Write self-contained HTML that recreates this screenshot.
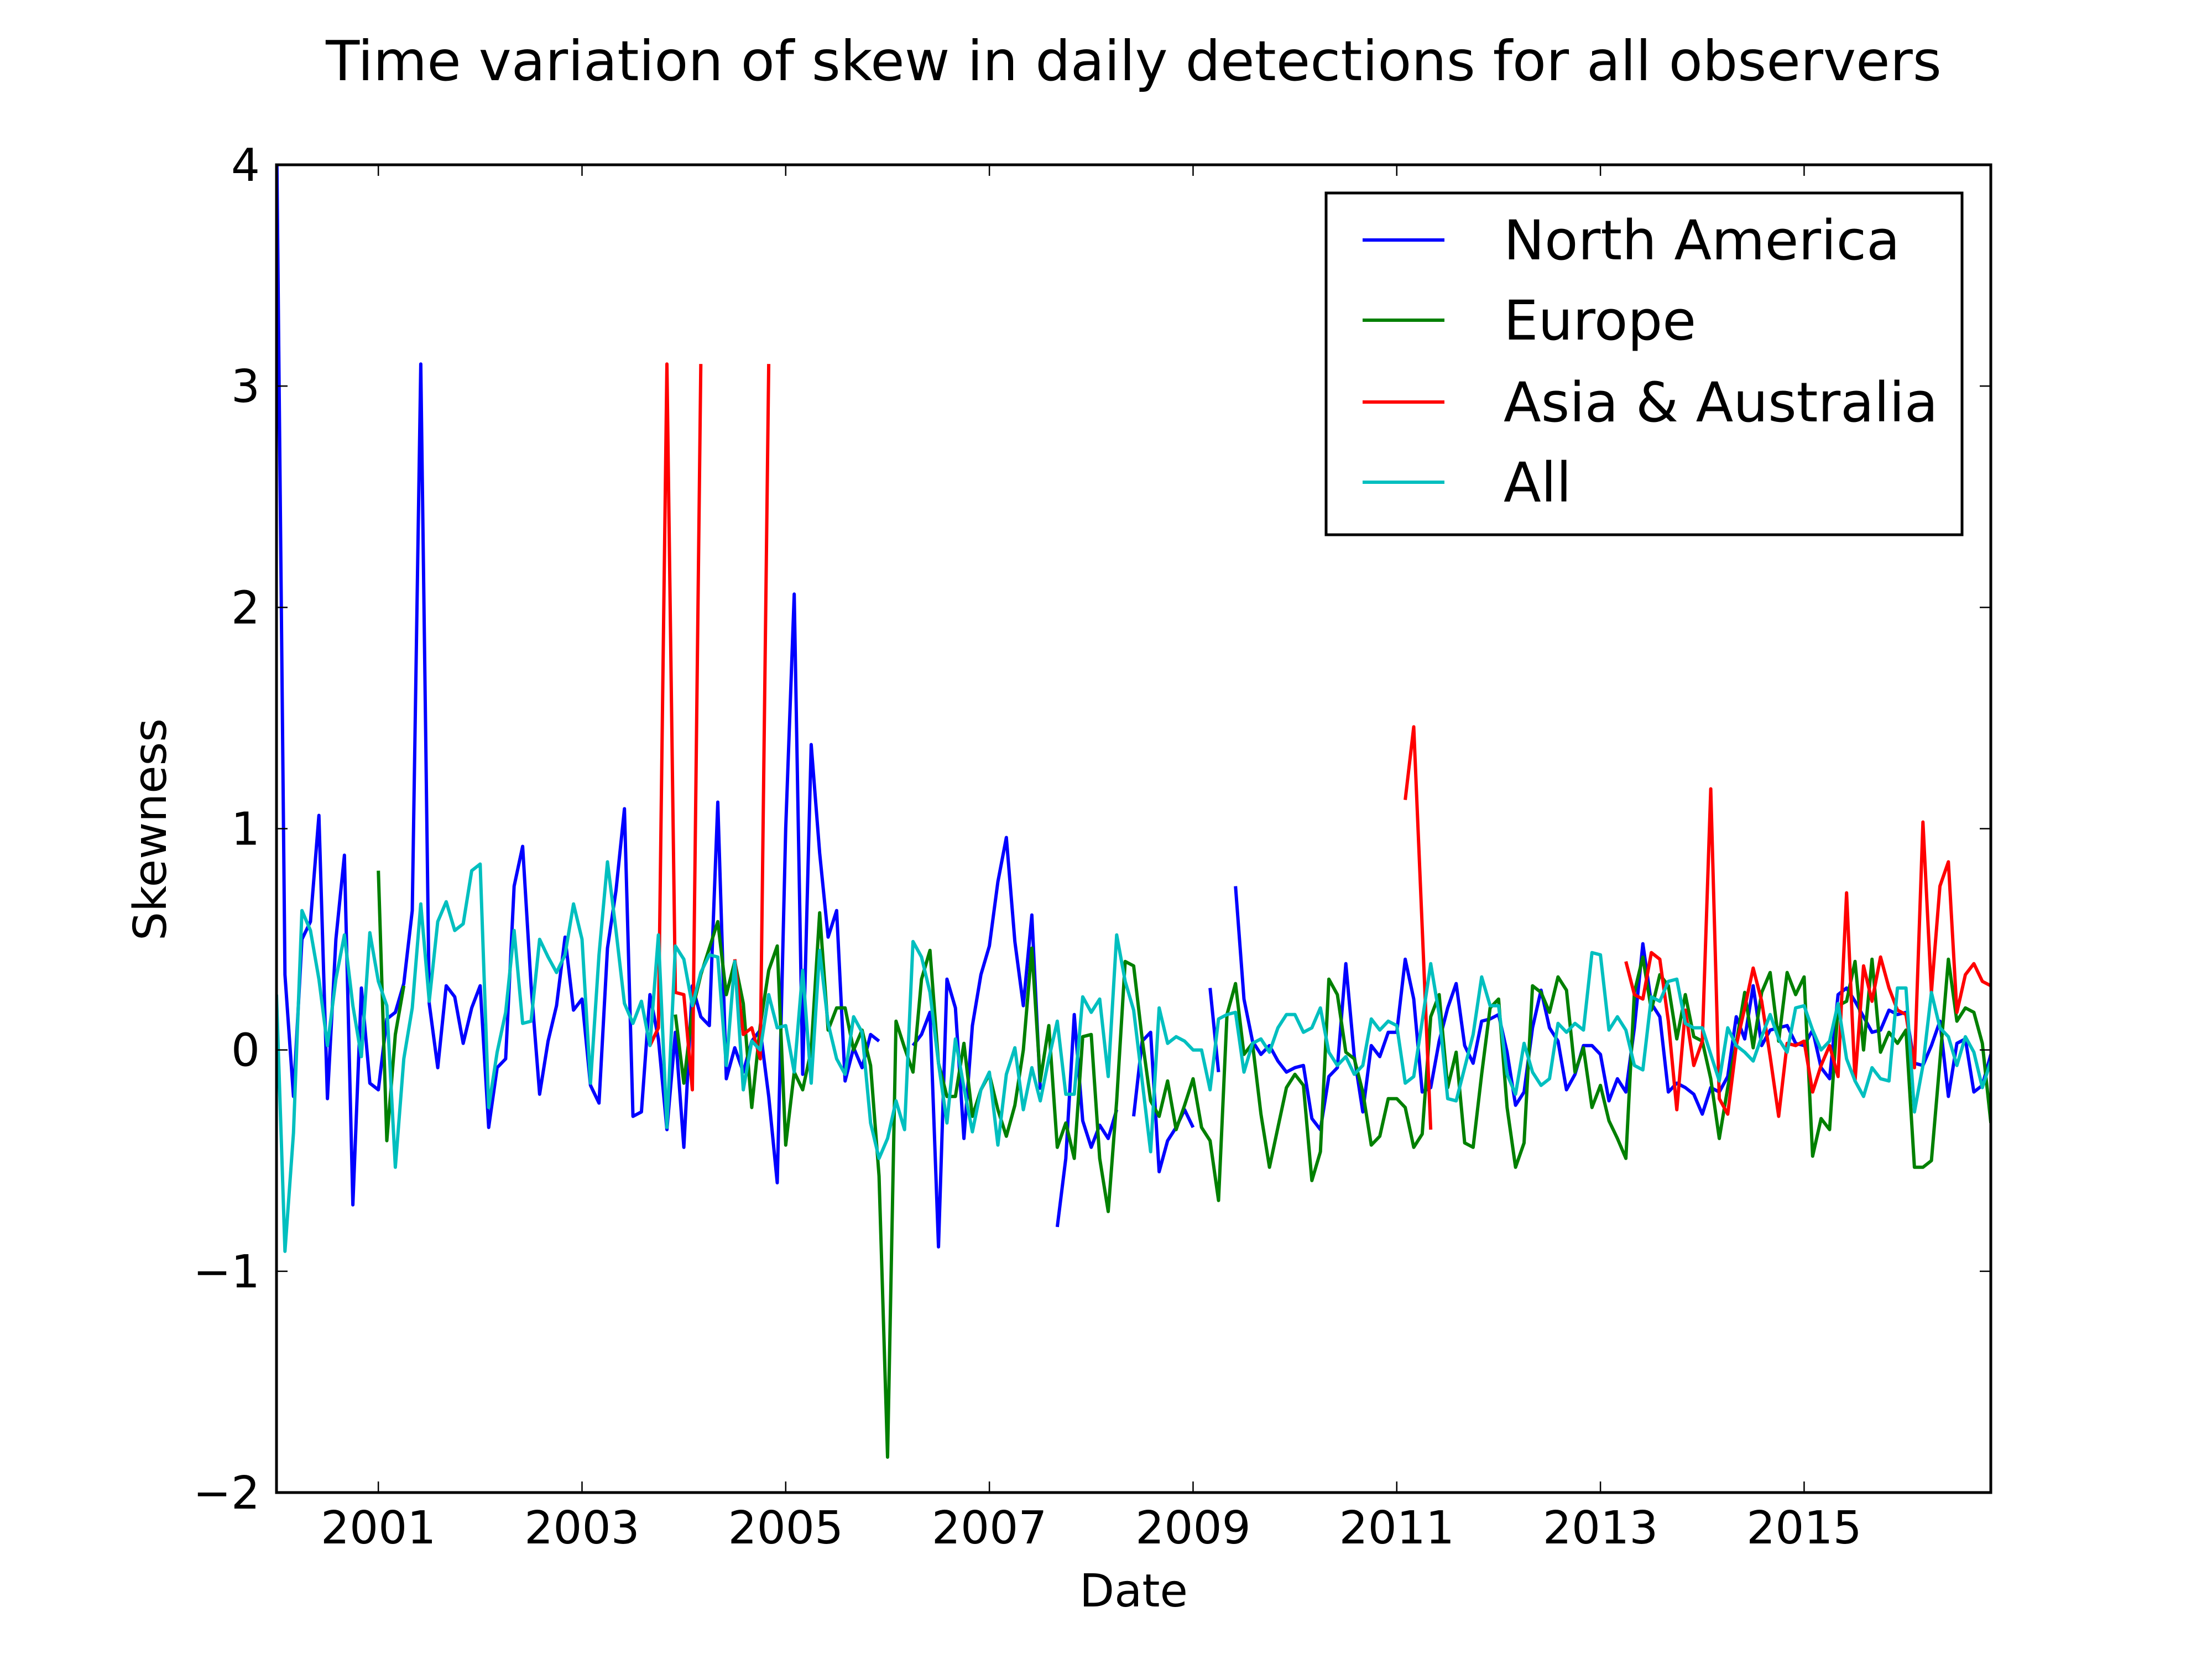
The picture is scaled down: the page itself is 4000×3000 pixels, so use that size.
<!DOCTYPE html>
<html><head><meta charset="utf-8"><title>Skew chart</title>
<style>html,body{margin:0;padding:0;background:#fff}svg{display:block}text{font-family:"DejaVu Sans","Liberation Sans",sans-serif}</style>
</head><body>
<svg id="chart" xmlns="http://www.w3.org/2000/svg" width="4000" height="3000" viewBox="0 0 4000 3000">
<rect x="0" y="0" width="4000" height="3000" fill="#fff"/>
<text x="2050" y="145" font-size="100" text-anchor="middle">Time variation of skew in daily detections for all observers</text>
<text x="2050" y="2905" font-size="82" text-anchor="middle">Date</text>
<text x="0" y="0" font-size="82" text-anchor="middle" transform="translate(300,1500) rotate(-90)">Skewness</text>
<defs><clipPath id="plotclip"><rect x="500" y="298" width="3100" height="2401"/></clipPath></defs>
<g id="series" clip-path="url(#plotclip)"></g>
<g id="axes"></g>
<g id="legend"></g>
</svg>
<script>
const yTicks=[-2,-1,0,1,2,3,4];
const xTickYears=[2001,2003,2005,2007,2009,2011,2013,2015];
const seriesNames=["North America","Europe","Asia & Australia","All"];
const northAmericaValues=[4.2,0.34,-0.21,0.5,0.58,1.06,-0.22,0.5,0.88,-0.7,
0.28,-0.15,-0.18,0.14,0.17,0.3,0.63,3.1,0.21,-0.08,
0.29,0.24,0.03,0.19,0.29,-0.35,-0.08,-0.04,0.74,0.92,
0.29,-0.2,0.04,0.2,0.51,0.18,0.23,-0.16,-0.24,0.46,
0.72,1.09,-0.3,-0.28,0.25,0.05,-0.36,0.08,-0.44,0.29,
0.15,0.11,1.12,-0.13,0.01,-0.1,0.04,0.09,-0.21,-0.6,
1.0,2.06,-0.11,1.38,0.89,0.51,0.63,-0.14,0.01,-0.08,
0.07,0.04,null,null,null,0.02,0.07,0.17,-0.89,0.32,
0.19,-0.4,0.11,0.34,0.47,0.76,0.96,0.49,0.2,0.61,
-0.18,null,-0.8,-0.49,0.16,-0.32,-0.44,-0.34,-0.4,-0.27,
null,-0.3,0.04,0.08,-0.55,-0.41,-0.35,-0.27,-0.35,null,
0.28,-0.1,null,0.74,0.23,0.04,-0.02,0.02,-0.05,-0.1,
-0.08,-0.07,-0.31,-0.36,-0.12,-0.08,0.39,-0.03,-0.28,0.02,
-0.03,0.08,0.08,0.41,0.23,-0.19,-0.17,0.04,0.19,0.3,
0.02,-0.06,0.13,0.14,0.16,-0.01,-0.25,-0.19,0.1,0.27,
0.1,0.04,-0.18,-0.11,0.02,0.02,-0.02,-0.23,-0.13,-0.19,
0.1,0.48,0.21,0.15,-0.19,-0.15,-0.17,-0.2,-0.29,-0.17,
-0.19,-0.12,0.15,0.05,0.29,0.02,0.09,0.1,0.11,0.03,
0.02,0.09,-0.08,-0.13,0.25,0.28,0.22,0.15,0.08,0.09,
0.18,0.16,0.17,-0.06,-0.07,0.02,0.13,-0.21,0.03,0.05,
-0.19,-0.16,-0.02];
const europeValues=[null,null,null,null,null,null,null,null,null,null,
null,null,0.81,-0.41,0.07,0.29,null,null,null,null,
null,null,null,null,null,null,null,null,null,null,
null,null,null,null,null,null,null,null,null,null,
null,null,null,null,null,null,null,0.16,-0.15,0.18,
0.34,0.46,0.58,0.25,0.4,0.21,-0.26,0.11,0.36,0.47,
-0.43,-0.1,-0.18,0.0,0.62,0.09,0.19,0.19,0.0,0.09,
-0.07,-0.57,-1.84,0.13,0.01,-0.1,0.32,0.45,-0.06,-0.21,
-0.21,0.03,-0.3,-0.18,-0.11,-0.27,-0.39,-0.25,0.0,0.46,
-0.14,0.11,-0.44,-0.33,-0.49,0.06,0.07,-0.49,-0.73,-0.23,
0.4,0.38,0.05,-0.23,-0.3,-0.14,-0.36,-0.25,-0.13,-0.35,
-0.41,-0.68,0.16,0.3,-0.02,0.03,-0.29,-0.53,-0.35,-0.17,
-0.11,-0.16,-0.59,-0.46,0.32,0.25,-0.01,-0.04,-0.19,-0.43,
-0.39,-0.22,-0.22,-0.26,-0.44,-0.38,0.15,0.25,-0.17,-0.01,
-0.42,-0.44,-0.11,0.19,0.23,-0.26,-0.53,-0.42,0.29,0.26,
0.17,0.33,0.27,-0.1,0.01,-0.26,-0.16,-0.32,-0.4,-0.49,
0.26,0.42,0.18,0.34,0.29,0.05,0.25,0.06,0.04,-0.13,
-0.4,-0.17,0.03,0.26,0.01,0.26,0.35,0.04,0.35,0.25,
0.33,-0.48,-0.31,-0.36,0.2,0.22,0.4,0.0,0.41,-0.01,
0.08,0.03,0.09,-0.53,-0.53,-0.5,-0.05,0.41,0.13,0.19,
0.17,0.03,-0.33];
const asiaMonths=[44,45,46,47,48,49,50,51,54,55,56,57,58,59,133,134,136,137,
159,160,161,162,163,164,165,166,167,168,169,170,171,172,173,174,175,176,177,178,179,180,
181,182,183,184,185,186,187,188,189,190,191,192,193,194,195,196,197,198,199,200,201,202];
const asiaValues=[0.02,0.1,3.1,0.26,0.25,-0.18,3.1,null,0.41,0.07,0.1,-0.04,3.1,null,1.13,1.46,-0.36,null,
0.40,0.25,0.23,0.44,0.41,0.13,-0.27,0.18,-0.07,0.04,1.18,-0.22,-0.29,0.02,0.19,0.37,0.22,-0.03,-0.30,0.03,0.02,0.04,
-0.19,-0.07,0.02,-0.12,0.71,-0.14,0.38,0.22,0.42,0.28,0.18,0.16,-0.08,1.03,0.26,0.74,0.85,0.17,0.34,0.39,0.31,0.29];
const allValues=[0.25,-0.91,-0.375,0.63,0.54,0.32,0.02,0.32,0.52,0.2,
-0.03,0.53,0.31,0.2,-0.53,-0.04,0.19,0.66,0.22,0.58,
0.67,0.54,0.57,0.81,0.84,-0.26,-0.01,0.17,0.54,0.12,
0.13,0.5,0.42,0.35,0.43,0.66,0.5,-0.15,0.43,0.85,
0.54,0.21,0.12,0.22,0.02,0.52,-0.35,0.47,0.41,0.2,
0.35,0.43,0.42,-0.07,0.4,-0.18,0.04,0.0,0.25,0.1,
0.11,-0.1,0.36,-0.15,0.45,0.12,-0.04,-0.11,0.15,0.08,
-0.33,-0.49,-0.4,-0.23,-0.36,0.49,0.42,0.26,-0.06,-0.33,
0.05,-0.17,-0.37,-0.18,-0.1,-0.43,-0.11,0.01,-0.27,-0.08,
-0.23,-0.04,0.13,-0.2,-0.2,0.24,0.17,0.23,-0.12,0.52,
0.31,0.18,-0.14,-0.46,0.19,0.03,0.06,0.04,0.0,0.0,
-0.18,0.14,0.16,0.17,-0.1,0.03,0.05,-0.01,0.1,0.16,
0.16,0.08,0.1,0.19,-0.01,-0.07,-0.03,-0.11,-0.07,0.14,
0.09,0.13,0.11,-0.15,-0.12,0.13,0.39,0.16,-0.22,-0.23,
-0.08,0.07,0.33,0.2,0.2,-0.11,-0.2,0.03,-0.1,-0.16,
-0.13,0.12,0.08,0.12,0.09,0.44,0.43,0.09,0.15,0.09,
-0.07,-0.09,0.24,0.22,0.31,0.32,0.12,0.1,0.1,-0.02,
-0.14,0.1,0.02,-0.01,-0.05,0.06,0.16,0.05,-0.01,0.19,
0.2,0.09,0.0,0.04,0.21,-0.04,-0.14,-0.21,-0.08,-0.13,
-0.14,0.28,0.28,-0.28,-0.07,0.26,0.1,0.06,-0.07,0.06,
-0.01,-0.17,-0.05];

const NS="http://www.w3.org/2000/svg";
const PL=500,PR=3600,PT=298,PB=2699;
const X0=2000,X1=2016.833,Y0=-2,Y1=4;
function xScale(year){return PL+(year-X0)/(X1-X0)*(PR-PL);}
function yScale(v){return PB-(v-Y0)/(Y1-Y0)*(PB-PT);}
function monthYear(m){return X0+m/12;}
function mk(tag,attrs,parent){const e=document.createElementNS(NS,tag);for(const k in attrs)e.setAttribute(k,attrs[k]);parent.appendChild(e);return e;}

function drawSeries(months,values,color,name){
  const g=document.getElementById('series');
  let d="",pen=false;
  for(let i=0;i<values.length;i++){
    const v=values[i];
    if(v===null||v===undefined){pen=false;continue;}
    const x=xScale(monthYear(months[i])),y=yScale(v);
    d+=(pen?"L":"M")+x.toFixed(1)+" "+y.toFixed(1);
    pen=true;
  }
  const p=mk('path',{d:d,fill:'none',stroke:color,'stroke-width':6,'stroke-linejoin':'round','stroke-linecap':'butt'},g);
  
  
}
const fullMonths=northAmericaValues.map((_,i)=>i);
drawSeries(fullMonths,northAmericaValues,'#0000ff','north-america-line');
drawSeries(fullMonths,europeValues,'#008000','europe-line');
drawSeries(asiaMonths,asiaValues,'#ff0000','asia-australia-line');
drawSeries(fullMonths,allValues,'#00bfbf','all-line');

const ax=document.getElementById('axes');
const frame=mk('rect',{x:PL,y:PT,width:PR-PL,height:PB-PT,fill:'none',stroke:'#000','stroke-width':5},ax);


const TL=20;
yTicks.forEach(v=>{
  const y=yScale(v);
  const t1=mk('line',{x1:PL,x2:PL+TL,y1:y,y2:y,stroke:'#000','stroke-width':2.5},ax);
  
  
  const t2=mk('line',{x1:PR,x2:PR-TL,y1:y,y2:y,stroke:'#000','stroke-width':2.5},ax);
  
  
  const lb=mk('text',{x:PL-30,y:y+29,'font-size':82,'text-anchor':'end'},ax);
  lb.textContent=(v<0?"\u2212"+Math.abs(v):String(v));
  
  
});
xTickYears.forEach(yr=>{
  const x=xScale(yr);
  const t1=mk('line',{x1:x,x2:x,y1:PB,y2:PB-TL,stroke:'#000','stroke-width':2.5},ax);
  
  
  const t2=mk('line',{x1:x,x2:x,y1:PT,y2:PT+TL,stroke:'#000','stroke-width':2.5},ax);
  
  
  const lb=mk('text',{x:x,y:PB+92,'font-size':82,'text-anchor':'middle'},ax);
  lb.textContent=String(yr);
  
  
});

const lg=document.getElementById('legend');
const box=mk('rect',{x:2398,y:349,width:1150,height:618,fill:'#fff',stroke:'#000','stroke-width':5},lg);


const legendColors=['#0000ff','#008000','#ff0000','#00bfbf'];
const rowY=[434,579,727,872];
seriesNames.forEach((n,i)=>{
  const l=mk('line',{x1:2464,x2:2612,y1:rowY[i],y2:rowY[i],stroke:legendColors[i],'stroke-width':6},lg);
  
  
  const t=mk('text',{x:2719,y:rowY[i]+35,'font-size':99},lg);
  t.textContent=n;
  
  
});
</script>
</body></html>
